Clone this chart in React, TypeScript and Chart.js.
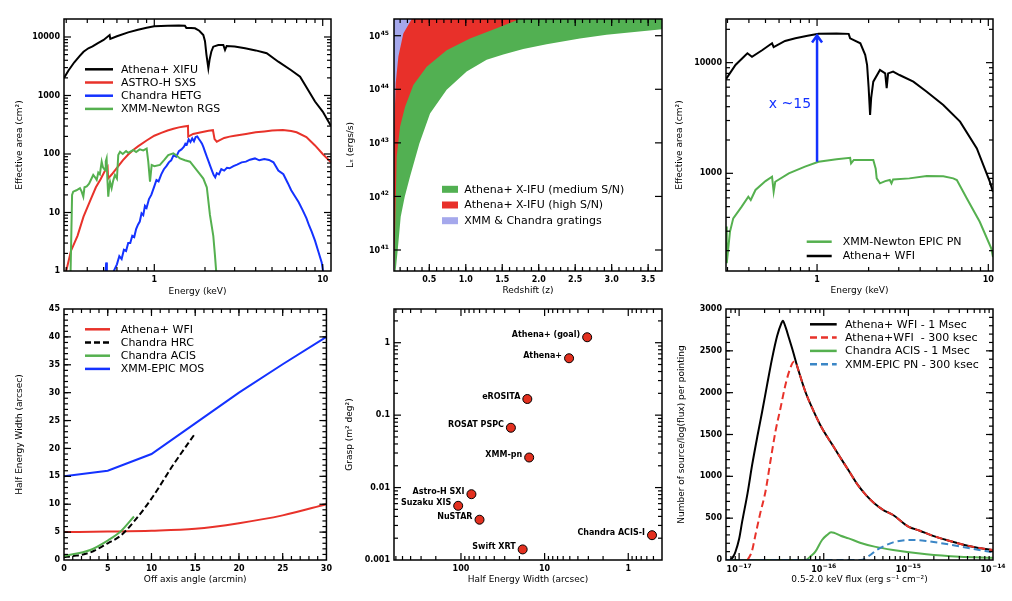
import React, { useEffect, useRef } from "react";
import { Chart, registerables } from "chart.js";
Chart.register(...registerables);

const FONT = "'DejaVu Sans', 'Liberation Sans', sans-serif";
const BLACK = "#000000";
const RED = "#e8322a";
const BLUE = "#1432ff";
const GREEN = "#55b04f";
const LBLUE = "#3b86c6";

// ---------- Panel 1: effective area of spectrometers ----------
const xifuE = [0.291, 0.31, 0.335, 0.36, 0.38, 0.406, 0.43, 0.46, 0.5, 0.543,
  0.548, 0.6, 0.7, 0.8, 0.9, 1.0, 1.2, 1.4, 1.52, 1.55,
  1.65, 1.745, 1.85, 1.955, 2.0, 2.04, 2.094, 2.13, 2.18, 2.24,
  2.4, 2.57, 2.63, 2.69, 3.0, 3.46, 4.0, 4.65, 5.45, 6.5,
  7.34, 7.86, 9.0, 10.0, 11.2];
const xifuA = [2000, 2700, 3700, 4700, 5600, 6410, 6900, 7800, 8900, 10800,
  9300, 10300, 12000, 13300, 14400, 15200, 15600, 15700, 15600, 14300,
  14200, 14100, 12800, 10800, 8500, 5000, 2920, 4100, 5600, 6830,
  7300, 7300, 6000, 7020, 6900, 6410, 5900, 5270, 3780, 2700,
  2100, 1510, 790, 530, 300];
const sxsE = [0.30, 0.32, 0.35, 0.38, 0.42, 0.45, 0.48, 0.51, 0.528, 0.532,
  0.56, 0.6, 0.65, 0.7, 0.75, 0.8, 0.9, 1.0, 1.1, 1.2,
  1.3, 1.4, 1.5, 1.585, 1.59, 1.7, 1.9, 2.1, 2.23, 2.28,
  2.35, 2.45, 2.6, 2.8, 3.0, 3.5, 4.0, 4.5, 5.0, 5.8,
  6.5, 7.0, 8.0, 9.0, 10.0, 11.2];
const sxsA = [1.0, 2.2, 4.0, 8.5, 17, 27, 37, 52, 60, 38,
  45, 58, 78, 98, 117, 135, 170, 205, 230, 252,
  270, 285, 295, 302, 198, 220, 235, 250, 255, 180,
  162, 172, 188, 198, 205, 220, 235, 243, 252, 257,
  248, 235, 195, 140, 100, 72];
const hetgE = [0.513, 0.518, 0.523, 0.53, 0.57, 0.6, 0.62, 0.64, 0.66, 0.68,
  0.70, 0.72, 0.74, 0.76, 0.78, 0.80, 0.82, 0.84, 0.86, 0.88,
  0.90, 0.93, 0.96, 1.0, 1.03, 1.06, 1.1, 1.14, 1.18, 1.22,
  1.26, 1.3, 1.35, 1.4, 1.45, 1.5, 1.53, 1.56, 1.6, 1.64,
  1.68, 1.72, 1.76, 1.8, 1.84, 1.88, 1.92, 1.96, 2.0, 2.05,
  2.1, 2.15, 2.2, 2.25, 2.3, 2.35, 2.42, 2.5, 2.6, 2.7,
  2.8, 2.95, 3.1, 3.3, 3.5, 3.7, 3.96, 4.2, 4.5, 4.8,
  5.1, 5.45, 5.84, 6.2, 6.5, 6.84, 7.2, 7.6, 8.0, 8.3,
  8.6, 9.0, 9.4, 9.86, 10.1];
const hetgA = [0.9, 1.4, 1.0, null, 0.95, 1.3, 1.8, 1.6, 2.3, 2.2,
  3.0, 3.0, 4.0, 3.8, 5.2, 6.2, 7.0, 9.7, 9.0, 13,
  12, 17, 20, 28, 36, 34, 45, 55, 62, 72,
  78, 95, 90, 112, 120, 133, 150, 145, 178, 160,
  185, 165, 195, 200, 180, 165, 150, 130, 110, 90,
  75, 62, 52, 44, 40, 47, 45, 55, 52, 58,
  57, 62, 66, 72, 74, 80, 84, 78, 82, 79,
  72, 52, 45, 32, 24, 19, 15, 11, 8, 6,
  4.7, 3.3, 2.2, 1.4, 0.9];
const rgsE = [0.318, 0.322, 0.325, 0.33, 0.345, 0.362, 0.37, 0.379, 0.385, 0.397,
  0.41, 0.434, 0.445, 0.455, 0.465, 0.475, 0.487, 0.495, 0.51, 0.515,
  0.521, 0.526, 0.533, 0.54, 0.546, 0.558, 0.57, 0.584, 0.6, 0.611,
  0.626, 0.65, 0.68, 0.7, 0.75, 0.78, 0.82, 0.86, 0.901, 0.921,
  0.943, 0.965, 1.0, 1.08, 1.15, 1.21, 1.297, 1.35, 1.42, 1.52,
  1.63, 1.786, 1.87, 1.955, 2.05, 2.14, 2.24, 2.29, 2.33, 2.36];
const rgsA = [0.8, 5, 20, 22.7, 24, 26, 23, 18.6, 27, 28,
  31, 43.8, 40, 36, 48, 45, 73.8, 60, 53, 75,
  84, 40, 18.6, 28, 33.6, 26, 35, 43.8, 38, 96,
  109, 100, 112, 105, 117, 108, 120, 115, 124, 73.8,
  33.6, 65, 62, 65, 80, 96, 103, 95, 84, 78,
  73.8, 53, 45, 38, 27, 9.1, 4, 1.9, 1.0, 0.8];

// ---------- Panel 2: luminosity vs redshift regions ----------
const greenZ = [0.03, 0.039, 0.067, 0.108, 0.163, 0.236, 0.364, 0.51, 0.738, 1.012, 1.286, 1.514, 1.788, 2.108, 2.564, 2.93, 3.69];
const greenLogL = [40.3, 40.614, 41.0, 41.62, 41.995, 42.37, 42.99, 43.55, 43.99, 44.33, 44.55, 44.65, 44.75, 44.84, 44.95, 45.02, 45.12];
const redZ = [0.016, 0.03, 0.053, 0.099, 0.167, 0.281, 0.464, 0.738, 1.058, 1.423, 1.697, 1.79];
const redLogL = [40.6, 41.3, 42.74, 43.3, 43.67, 44.08, 44.42, 44.73, 44.95, 45.14, 45.29, 45.35];
const blueZ = [0.016, 0.02, 0.039, 0.076, 0.144, 0.259, 0.3];
const blueLogL = [43.0, 43.3, 44.11, 44.61, 45.04, 45.31, 45.4];

// ---------- Panel 3: WFI vs EPIC PN ----------
const wfiE = [0.294, 0.334, 0.392, 0.417, 0.48, 0.546, 0.558, 0.65, 0.747, 0.88,
  1.02, 1.3, 1.53, 1.56, 1.79, 1.91, 1.96, 2.0, 2.04, 2.07,
  2.13, 2.33, 2.5, 2.55, 2.6, 2.78, 3.03, 3.65, 4.37, 5.46,
  6.84, 8.57, 10.2, 10.65];
const wfiA = [7100, 9530, 12160, 11300, 13000, 14960, 13800, 15700, 16600, 17500,
  18200, 18300, 18200, 16600, 14960, 11760, 9500, 6000, 3370, 4800,
  6730, 8600, 8000, 5870, 8000, 8300, 7730, 6730, 5460, 4150,
  2930, 1680, 840, 680];
const pnE = [0.294, 0.297, 0.31, 0.324, 0.363, 0.397, 0.41, 0.437, 0.5, 0.546,
  0.558, 0.57, 0.684, 0.85, 1.02, 1.3, 1.56, 1.58, 1.64, 1.78,
  2.13, 2.2, 2.23, 2.33, 2.5, 2.66, 2.72, 2.78, 3.46, 4.37,
  5.46, 6.24, 6.55, 7.48, 8.91, 10.4, 10.65];
const pnA = [330, 154, 296, 392, 500, 614, 574, 707, 850, 932,
  682, 839, 1000, 1150, 1270, 1340, 1380, 1230, 1320, 1320,
  1320, 1100, 900, 812, 850, 870, 812, 880, 900, 945,
  940, 900, 870, 594, 365, 210, 175];
const arrowE = 1;
const arrowFrom = 1270;
const arrowTo = 18000;
const arrowTextA = 4200;

// ---------- Panel 4: HEW vs off-axis angle ----------
const wfiOff = [0, 5, 10, 15, 20, 25, 30];
const wfiHew = [5.0, 5.1, 5.25, 5.6, 6.6, 8.0, 10.0];
const hrcOff = [0, 1, 3, 5, 6.5, 8, 10, 12.5, 15];
const hrcHew = [0.5, 0.7, 1.35, 3.0, 4.4, 6.9, 11.0, 17.1, 22.7];
const acisOff = [0, 3, 5, 6.4, 8];
const acisHew = [0.7, 1.8, 3.5, 5.0, 7.8];
const mosOff = [0, 5, 10, 15, 20, 25, 30];
const mosHew = [15, 16, 19, 24.5, 30, 35.1, 40];

// ---------- Panel 5: grasp vs HEW ----------
const missionNames = ["Athena+ (goal)", "Athena+", "eROSITA", "ROSAT PSPC", "XMM-pn", "Astro-H SXI", "Suzaku XIS", "NuSTAR", "Chandra ACIS-I", "Swift XRT"];
const missionHew = [3.1, 5.1, 16.1, 25.3, 15.3, 75, 108, 60, 0.52, 18.3];
const missionGrasp = [1.19, 0.61, 0.167, 0.067, 0.026, 0.0081, 0.0056, 0.0036, 0.0022, 0.0014];

// ---------- Panel 6: source counts (log10 flux) ----------
const wfi1mLogF = [-17.149, -17.11, -17.07, -17.043, -17.0, -16.964, -16.9, -16.846, -16.78, -16.728,
  -16.67, -16.61, -16.55, -16.5, -16.484, -16.45, -16.41, -16.374, -16.3, -16.217,
  -16.12, -16.02, -15.9, -15.823, -15.7, -15.6, -15.5, -15.4, -15.3, -15.18,
  -15.0, -14.865, -14.7, -14.5, -14.393, -14.2, -14.0];
const wfi1mN = [0, 0, 40, 99, 250, 458, 800, 1136, 1500, 1772,
  2090, 2410, 2680, 2830, 2860, 2780, 2650, 2530, 2270, 2011,
  1780, 1574, 1380, 1255, 1060, 900, 775, 675, 600, 538,
  400, 350, 285, 225, 195, 150, 118];
const wfi300LogF = [-16.9, -16.85, -16.807, -16.75, -16.689, -16.63, -16.571, -16.51, -16.453, -16.4,
  -16.354, -16.33, -16.3, -16.217, -16.12, -16.02, -15.9, -15.823, -15.7, -15.6,
  -15.5, -15.4, -15.3, -15.18, -15.0, -14.865, -14.7, -14.5, -14.393, -14.2, -14.0];
const wfi300N = [0, 100, 299, 560, 816, 1180, 1533, 1820, 2092, 2280,
  2370, 2360, 2270, 2011, 1780, 1574, 1380, 1255, 1060, 900,
  775, 675, 600, 538, 400, 350, 285, 225, 195, 150, 118];
const acis1mLogF = [-17.149, -16.25, -16.214, -16.15, -16.099, -16.02, -15.96, -15.914, -15.88, -15.8,
  -15.706, -15.572, -15.4, -15.18, -14.786, -14.393, -14.0];
const acis1mN = [0, 0, 0, 50, 99, 239, 300, 331, 325, 290,
  259, 207, 160, 120, 68, 39, 27];
const pn300LogF = [-17.149, -15.56, -15.45, -15.375, -15.28, -15.18, -14.983, -14.9, -14.786, -14.55, -14.275, -14.0];
const pn300N = [0, 0, 60, 120, 170, 211, 239, 238, 227, 191, 140, 92];

// ---------- tick label lists ----------
const p2Exponents = ["41", "42", "43", "44", "45"];
const p6Exponents = ["−17", "−16", "−15", "−14"];

// ---------- helpers ----------
const pts = (xs: number[], ys: (number | null)[]) => xs.map((x, i) => ({ x, y: ys[i] }));
const pow10 = (a: number[]) => a.map((v) => Math.pow(10, v));

const logMinors = (e0: number, e1: number) => {
  const out: number[] = [];
  for (let e = e0; e <= e1; e++) for (let m = 2; m <= 9; m++) out.push(m * Math.pow(10, e));
  return out;
};
const linTicks = (a: number, b: number, step: number) => {
  const out: number[] = [];
  for (let v = a; v <= b + 1e-9; v += step) out.push(Math.round(v * 1000) / 1000);
  return out;
};

type Box = { l: number; t: number; w: number; h: number };
type Area = { l: number; t: number; r: number; b: number };

function axisOpts(o: any) {
  return {
    type: o.type,
    min: o.min,
    max: o.max,
    reverse: !!o.reverse,
    position: o.isX ? "bottom" : "left",
    grid: { display: false, drawTicks: false },
    border: { display: false },
    ticks: {
      autoSkip: false,
      maxRotation: 0,
      minRotation: 0,
      padding: o.tickPad ?? 4,
      color: "#000",
      font: { family: FONT, size: 8, weight: "bold" },
      callback: (_v: any, i: number) => (o.labels ? (o.labels[i] ?? "") : ""),
    },
    afterBuildTicks: (s: any) => {
      s.ticks = o.major.map((v: number) => ({ value: v }));
    },
    afterFit: (s: any) => {
      if (o.isX) s.height = o.size;
      else s.width = o.size;
    },
    title: {
      display: true,
      text: o.title,
      color: "#000",
      font: { family: FONT, size: 9 },
      padding: o.titlePad,
    },
  };
}

// "10" with a raised exponent, drawn as text
function drawPow(ctx: any, exp: string, x: number, y: number, align: "right" | "center") {
  ctx.save();
  ctx.fillStyle = "#000";
  ctx.textBaseline = "middle";
  ctx.textAlign = "left";
  const fb = `bold 8px ${FONT}`;
  const fe = `bold 6px ${FONT}`;
  ctx.font = fb;
  const wb = ctx.measureText("10").width;
  ctx.font = fe;
  const we = ctx.measureText(exp).width;
  const total = wb + we + 0.5;
  const x0 = align === "right" ? x - total : x - total / 2;
  ctx.font = fb;
  ctx.fillText("10", x0, y);
  ctx.font = fe;
  ctx.fillText(exp, x0 + wb + 0.5, y - 3.5);
  ctx.restore();
}

function framePlugin(spec: any) {
  return {
    id: "frameTicks",
    afterDraw(chart: any) {
      const ctx = chart.ctx;
      const a = chart.chartArea;
      const xs = chart.scales.x;
      const ys = chart.scales.y;
      const xMajor: number[] = spec.xMajor || [];
      const xMinor: number[] = spec.xMinor || [];
      const yMajor: number[] = spec.yMajor || [];
      const yMinor: number[] = spec.yMinor || [];
      ctx.save();
      ctx.fillStyle = "#000";
      const tw = 1.2;
      const markX = (vals: number[], len: number) => {
        for (const v of vals) {
          const p = xs.getPixelForValue(v);
          if (!isFinite(p) || p < a.left + 1 || p > a.right - 1) continue;
          ctx.fillRect(p - tw / 2, a.bottom - len, tw, len);
          ctx.fillRect(p - tw / 2, a.top, tw, len);
        }
      };
      const markY = (vals: number[], len: number) => {
        for (const v of vals) {
          const p = ys.getPixelForValue(v);
          if (!isFinite(p) || p < a.top + 1 || p > a.bottom - 1) continue;
          ctx.fillRect(a.left, p - tw / 2, len, tw);
          ctx.fillRect(a.right - len, p - tw / 2, len, tw);
        }
      };
      markX(xMajor, 7);
      markX(xMinor, 4);
      markY(yMajor, 7);
      markY(yMinor, 4);
      ctx.strokeStyle = "#000";
      ctx.lineWidth = 1.5;
      ctx.setLineDash([]);
      ctx.strokeRect(a.left, a.top, a.right - a.left, a.bottom - a.top);
      ctx.restore();
      if (spec.yExp) {
        yMajor.forEach((v: number, i: number) => {
          drawPow(ctx, spec.yExp[i], a.left - 5, ys.getPixelForValue(v) + 1, "right");
        });
      }
      if (spec.xExp) {
        xMajor.forEach((v: number, i: number) => {
          drawPow(ctx, spec.xExp[i], xs.getPixelForValue(v), a.bottom + 10, "center");
        });
      }
      if (spec.extra) spec.extra(chart, ctx);
    },
  };
}

function drawLegend(ctx: any, a: any, L: any) {
  ctx.save();
  ctx.font = `${L.size}px ${FONT}`;
  ctx.textBaseline = "middle";
  ctx.textAlign = "left";
  L.items.forEach((it: any, i: number) => {
    const y = a.top + L.y0 + i * L.dy;
    if (it.box) {
      ctx.fillStyle = it.color;
      ctx.fillRect(a.left + L.x0, y - 3.5, L.x1 - L.x0, 7);
    } else {
      ctx.strokeStyle = it.color;
      ctx.lineWidth = 2.5;
      ctx.setLineDash(it.dash || []);
      ctx.beginPath();
      ctx.moveTo(a.left + L.x0, y);
      ctx.lineTo(a.left + L.x1, y);
      ctx.stroke();
      ctx.setLineDash([]);
    }
    ctx.fillStyle = "#000";
    ctx.fillText(it.label, a.left + L.tx, y + 0.5);
  });
  ctx.restore();
}

function baseConfig(box: Box, area: Area, xAxis: any, yAxis: any, xTitleCenter: number, yTitleCenter: number) {
  const yW = area.l - box.l;
  const xH = box.t + box.h - area.b;
  const half = 5.4;
  xAxis.isX = true;
  xAxis.size = xH;
  xAxis.titlePad = { top: 0, bottom: box.t + box.h - xTitleCenter - half };
  yAxis.isX = false;
  yAxis.size = yW;
  yAxis.titlePad = { top: yTitleCenter - box.l - half, bottom: 0 };
  return {
    responsive: false,
    maintainAspectRatio: false,
    animation: false as const,
    layout: {
      autoPadding: false,
      padding: { left: 0, top: area.t - box.t, right: box.l + box.w - area.r, bottom: 0 },
    },
    plugins: { legend: { display: false }, tooltip: { enabled: false } },
    scales: { x: axisOpts(xAxis), y: axisOpts(yAxis) },
  };
}

const lineDs = (label: string, data: any[], color: string, extra: any = {}) => ({
  label,
  data,
  borderColor: color,
  backgroundColor: color,
  borderWidth: 2,
  pointRadius: 0,
  fill: false,
  tension: 0,
  ...extra,
});

// ---------- panel configs ----------
function panel1() {
  const box = { l: 0, t: 0, w: 340, h: 300 };
  const area = { l: 64, t: 19, r: 331, b: 271 };
  const xMajor = [1, 10];
  const yMajor = [1, 10, 100, 1000, 10000];
  const options = baseConfig(box, area,
    { type: "logarithmic", min: 0.291, max: 11.2, major: xMajor, labels: ["1", "10"], title: "Energy (keV)" },
    { type: "logarithmic", min: 1, max: 20300, major: yMajor, labels: ["1", "10", "100", "1000", "10000"], title: "Effective area (cm²)" },
    292, 20);
  return {
    box,
    config: {
      type: "line",
      data: {
        datasets: [
          lineDs("XMM-Newton RGS", pts(rgsE, rgsA), GREEN),
          lineDs("Chandra HETG", pts(hetgE, hetgA), BLUE),
          lineDs("ASTRO-H SXS", pts(sxsE, sxsA), RED),
          lineDs("Athena+ XIFU", pts(xifuE, xifuA), BLACK),
        ],
      },
      options,
      plugins: [framePlugin({
        xMajor, xMinor: logMinors(-1, 1), yMajor, yMinor: logMinors(0, 4),
        extra: (chart: any, ctx: any) => drawLegend(ctx, chart.chartArea, {
          size: 11, x0: 21, x1: 49, tx: 57, y0: 50.3, dy: 13.2,
          items: [
            { label: "Athena+ XIFU", color: BLACK },
            { label: "ASTRO-H SXS", color: RED },
            { label: "Chandra HETG", color: BLUE },
            { label: "XMM-Newton RGS", color: GREEN },
          ],
        }),
      })],
    },
  };
}

function panel2() {
  const box = { l: 336, t: 0, w: 336, h: 300 };
  const area = { l: 394, t: 19, r: 662, b: 271 };
  const xMajor = [0.5, 1, 1.5, 2, 2.5, 3, 3.5];
  const yMajor = [1e41, 1e42, 1e43, 1e44, 1e45];
  const options = baseConfig(box, area,
    { type: "linear", min: 0.016, max: 3.69, major: xMajor, labels: ["0.5", "1.0", "1.5", "2.0", "2.5", "3.0", "3.5"], title: "Redshift (z)" },
    { type: "logarithmic", min: Math.pow(10, 40.608), max: Math.pow(10, 45.312), major: yMajor, labels: null, title: "Lₓ (ergs/s)", tickPad: 5 },
    291, 350.5);
  const area_ = (label: string, z: number[], l: number[], color: string) => ({
    label, data: pts(z, pow10(l)), borderWidth: 0, borderColor: color, backgroundColor: color,
    pointRadius: 0, fill: "end", tension: 0,
  });
  return {
    box,
    config: {
      type: "line",
      data: {
        datasets: [
          area_("XMM & Chandra gratings", blueZ, blueLogL, "#a5a8ec"),
          area_("Athena+ X-IFU (high S/N)", redZ, redLogL, "#e8302a"),
          area_("Athena+ X-IFU (medium S/N)", greenZ, greenLogL, "#52b052"),
        ],
      },
      options,
      plugins: [framePlugin({
        xMajor, xMinor: linTicks(0.1, 3.6, 0.1), yMajor, yMinor: [], yExp: p2Exponents,
        extra: (chart: any, ctx: any) => drawLegend(ctx, chart.chartArea, {
          size: 11, x0: 48, x1: 64, tx: 70.3, y0: 170.3, dy: 15.7,
          items: [
            { label: "Athena+ X-IFU (medium S/N)", color: "#52b052", box: true },
            { label: "Athena+ X-IFU (high S/N)", color: "#e8302a", box: true },
            { label: "XMM & Chandra gratings", color: "#a5a8ec", box: true },
          ],
        }),
      })],
    },
  };
}

function panel3() {
  const box = { l: 672, t: 0, w: 340, h: 300 };
  const area = { l: 726, t: 19, r: 993, b: 271 };
  const xMajor = [1, 10];
  const yMajor = [1000, 10000];
  const options = baseConfig(box, area,
    { type: "logarithmic", min: 0.294, max: 10.65, major: xMajor, labels: ["1", "10"], title: "Energy (keV)" },
    { type: "logarithmic", min: 131, max: 24800, major: yMajor, labels: ["1000", "10000"], title: "Effective area (cm²)" },
    291, 680);
  return {
    box,
    config: {
      type: "line",
      data: {
        datasets: [
          lineDs("Athena+ WFI", pts(wfiE, wfiA), BLACK),
          lineDs("XMM-Newton EPIC PN", pts(pnE, pnA), GREEN),
        ],
      },
      options,
      plugins: [framePlugin({
        xMajor, xMinor: logMinors(-1, 1), yMajor, yMinor: logMinors(2, 4),
        extra: (chart: any, ctx: any) => {
          const xs = chart.scales.x, ys = chart.scales.y;
          const x = xs.getPixelForValue(arrowE);
          const y0 = ys.getPixelForValue(arrowFrom);
          const y1 = ys.getPixelForValue(arrowTo);
          ctx.save();
          ctx.strokeStyle = BLUE;
          ctx.lineWidth = 2.5;
          ctx.beginPath();
          ctx.moveTo(x, y0);
          ctx.lineTo(x, y1 + 1);
          ctx.moveTo(x - 5, y1 + 8);
          ctx.lineTo(x, y1 + 1);
          ctx.lineTo(x + 5, y1 + 8);
          ctx.stroke();
          ctx.fillStyle = BLUE;
          ctx.font = `14px ${FONT}`;
          ctx.textAlign = "right";
          ctx.textBaseline = "middle";
          ctx.fillText("x ~15", x - 6, ys.getPixelForValue(arrowTextA));
          ctx.restore();
          drawLegend(ctx, chart.chartArea, {
            size: 11, x0: 80.7, x1: 105.7, tx: 116.7, y0: 222.7, dy: 14.3,
            items: [
              { label: "XMM-Newton EPIC PN", color: GREEN },
              { label: "Athena+ WFI", color: BLACK },
            ],
          });
        },
      })],
    },
  };
}

function panel4() {
  const box = { l: 0, t: 300, w: 336, h: 301 };
  const area = { l: 64, t: 309, r: 331, b: 560 };
  const xMajor = linTicks(0, 30, 5);
  const yMajor = linTicks(0, 45, 5);
  const options = baseConfig(box, area,
    { type: "linear", min: 0, max: 30, major: xMajor, labels: xMajor.map(String), title: "Off axis angle (arcmin)" },
    { type: "linear", min: 0, max: 45, major: yMajor, labels: yMajor.map(String), title: "Half Energy Width (arcsec)" },
    580, 20);
  const smooth = { cubicInterpolationMode: "monotone" };
  return {
    box,
    config: {
      type: "line",
      data: {
        datasets: [
          lineDs("Chandra ACIS", pts(acisOff, acisHew), GREEN, smooth),
          lineDs("Chandra HRC", pts(hrcOff, hrcHew), BLACK, { ...smooth, borderDash: [6, 3] }),
          lineDs("Athena+ WFI", pts(wfiOff, wfiHew), RED, smooth),
          lineDs("XMM-EPIC MOS", pts(mosOff, mosHew), BLUE),
        ],
      },
      options,
      plugins: [framePlugin({
        xMajor, xMinor: linTicks(0, 30, 1), yMajor, yMinor: linTicks(0, 45, 1),
        extra: (chart: any, ctx: any) => drawLegend(ctx, chart.chartArea, {
          size: 11, x0: 21, x1: 46, tx: 56.7, y0: 20.3, dy: 13.2,
          items: [
            { label: "Athena+ WFI", color: RED },
            { label: "Chandra HRC", color: BLACK, dash: [6, 3] },
            { label: "Chandra ACIS", color: GREEN },
            { label: "XMM-EPIC MOS", color: BLUE },
          ],
        }),
      })],
    },
  };
}

function panel5() {
  const box = { l: 336, t: 300, w: 336, h: 301 };
  const area = { l: 394, t: 309, r: 662, b: 560 };
  const xMajor = [100, 10, 1];
  const yMajor = [0.001, 0.01, 0.1, 1];
  const options = baseConfig(box, area,
    { type: "logarithmic", min: 0.395, max: 632, reverse: true, major: xMajor, labels: ["100", "10", "1"], title: "Half Energy Width (arcsec)" },
    { type: "logarithmic", min: 0.001, max: 2.92, major: yMajor, labels: ["0.001", "0.01", "0.1", "1"], title: "Grasp (m² deg²)" },
    580, 350);
  return {
    box,
    config: {
      type: "scatter",
      data: {
        datasets: [{
          label: "missions",
          data: pts(missionHew, missionGrasp),
          backgroundColor: "#e3301f",
          borderColor: "#000",
          borderWidth: 1,
          pointRadius: 4.5,
          showLine: false,
        }],
      },
      options,
      plugins: [framePlugin({
        xMajor, xMinor: logMinors(-1, 2), yMajor, yMinor: logMinors(-3, 0),
        extra: (chart: any, ctx: any) => {
          const xs = chart.scales.x, ys = chart.scales.y;
          ctx.save();
          ctx.font = `bold 8px ${FONT}`;
          ctx.fillStyle = "#000";
          ctx.textAlign = "right";
          ctx.textBaseline = "middle";
          missionNames.forEach((n, i) => {
            ctx.fillText(n, xs.getPixelForValue(missionHew[i]) - 7, ys.getPixelForValue(missionGrasp[i]) - 2.5);
          });
          ctx.restore();
        },
      })],
    },
  };
}

function panel6() {
  const box = { l: 672, t: 300, w: 340, h: 301 };
  const area = { l: 726, t: 309, r: 993, b: 560 };
  const xMajor = [1e-17, 1e-16, 1e-15, 1e-14];
  const yMajor = linTicks(0, 3000, 500);
  const options = baseConfig(box, area,
    { type: "logarithmic", min: Math.pow(10, -17.149), max: 1e-14, major: xMajor, labels: null, title: "0.5-2.0 keV flux (erg s⁻¹ cm⁻²)" },
    { type: "linear", min: 0, max: 3000, major: yMajor, labels: yMajor.map(String), title: "Number of source/log(flux) per pointing" },
    580, 681.5);
  const smooth = { cubicInterpolationMode: "monotone" };
  return {
    box,
    config: {
      type: "line",
      data: {
        datasets: [
          lineDs("Athena+WFI  - 300 ksec", pts(pow10(wfi300LogF), wfi300N), RED, { ...smooth, borderDash: [7, 4] }),
          lineDs("XMM-EPIC PN - 300 ksec", pts(pow10(pn300LogF), pn300N), LBLUE, { ...smooth, borderDash: [7, 4] }),
          lineDs("Athena+ WFI - 1 Msec", pts(pow10(wfi1mLogF), wfi1mN), BLACK, smooth),
          lineDs("Chandra ACIS - 1 Msec", pts(pow10(acis1mLogF), acis1mN), GREEN, smooth),
        ],
      },
      options,
      plugins: [framePlugin({
        xMajor, xMinor: logMinors(-18, -15), yMajor, yMinor: linTicks(0, 3000, 100), xExp: p6Exponents,
        extra: (chart: any, ctx: any) => drawLegend(ctx, chart.chartArea, {
          size: 11, x0: 84, x1: 110.7, tx: 119, y0: 15.3, dy: 13.3,
          items: [
            { label: "Athena+ WFI - 1 Msec", color: BLACK },
            { label: "Athena+WFI  - 300 ksec", color: RED, dash: [7, 4] },
            { label: "Chandra ACIS - 1 Msec", color: GREEN },
            { label: "XMM-EPIC PN - 300 ksec", color: LBLUE, dash: [7, 4] },
          ],
        }),
      })],
    },
  };
}

function Panel({ make }: { make: () => any }) {
  const ref = useRef<HTMLCanvasElement>(null);
  const spec = make();
  const { box } = spec;
  useEffect(() => {
    const chart = new Chart(ref.current as HTMLCanvasElement, make().config as any);
    return () => chart.destroy();
  }, []);
  return (
    <canvas
      ref={ref}
      width={box.w}
      height={box.h}
      style={{ position: "absolute", left: box.l, top: box.t, width: box.w, height: box.h }}
    />
  );
}

export default function App() {
  return (
    <div style={{ position: "fixed", left: 0, top: 0, width: 1012, height: 601, background: "#fff", overflow: "hidden" }}>
      <Panel make={panel1} />
      <Panel make={panel2} />
      <Panel make={panel3} />
      <Panel make={panel4} />
      <Panel make={panel5} />
      <Panel make={panel6} />
    </div>
  );
}
